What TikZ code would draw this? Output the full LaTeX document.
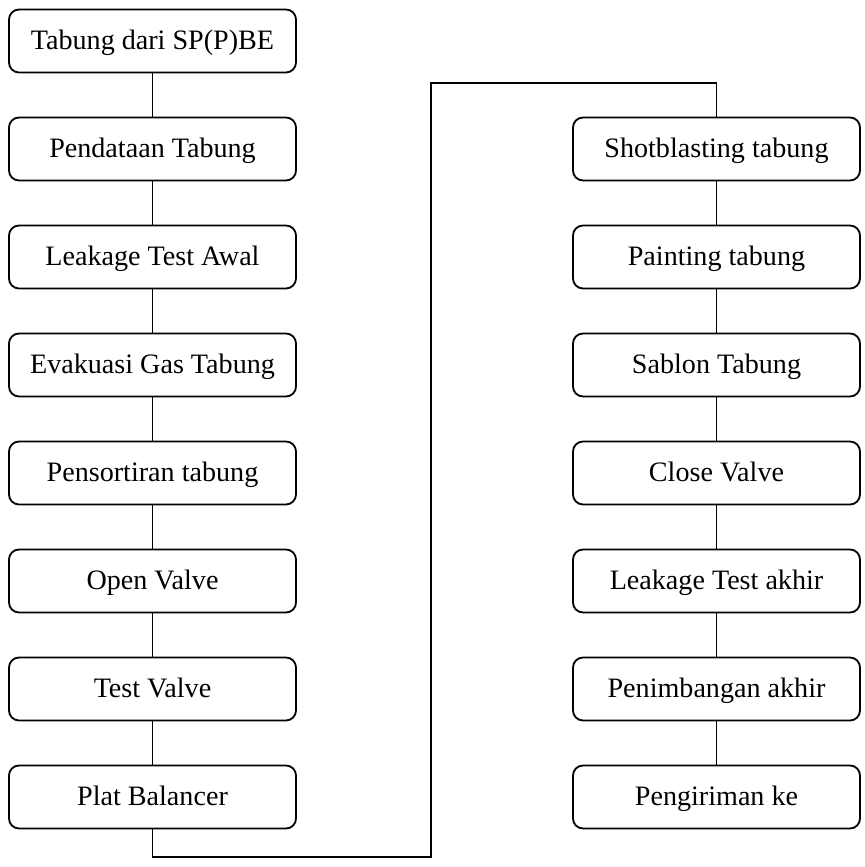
\documentclass[tikz,border=0pt]{standalone}
\usepackage{fontspec}
\setmainfont{Liberation Serif}
\usepackage{tikz}
\usetikzlibrary{positioning}
\tikzstyle{langkah} = [rectangle, rounded corners=0.25cm,
minimum width=7.175cm,
minimum height=1.575cm,
text centered,
text height=16pt,
text depth=4.5pt,
line width=1.3pt,
draw=black,
font=\fontsize{20}{24}\selectfont]
\tikzstyle{garis} = [line width=1.3pt]

\begin{document}
\begin{tikzpicture}[node distance=2.7cm]

  \useasboundingbox (0,0) rectangle (21.625,-21.675);

  % kolom kiri
  \node (tabung) [langkah] at (3.8125,-1.025) {Tabung dari SP(P)BE};
  \node (pendataan) [langkah, below of=tabung] {Pendataan Tabung};
  \node (leakawal) [langkah, below of=pendataan] {Leakage Test Awal};
  \node (evakuasi) [langkah, below of=leakawal] {Evakuasi Gas Tabung};
  \node (sortir) [langkah, below of=evakuasi] {Pensortiran tabung};
  \node (open) [langkah, below of=sortir] {Open Valve};
  \node (testvalve) [langkah, below of=open] {Test Valve};
  \node (plat) [langkah, below of=testvalve] {Plat Balancer};

  % kolom kanan
  \node (shot) [langkah] at (17.9125,-3.725) {Shotblasting tabung};
  \node (painting) [langkah, below of=shot] {Painting tabung};
  \node (sablon) [langkah, below of=painting] {Sablon Tabung};
  \node (close) [langkah, below of=sablon] {Close Valve};
  \node (leakakhir) [langkah, below of=close] {Leakage Test akhir};
  \node (timbang) [langkah, below of=leakakhir] {Penimbangan akhir};
  \node (kirim) [langkah, below of=timbang] {Pengiriman ke};

  \coordinate (bawah) at (10.775,-21.425);
  \coordinate (atas) at (10.775,-2.075);

  \draw [garis] (tabung) -- (pendataan);
  \draw [garis] (pendataan) -- (leakawal);
  \draw [garis] (leakawal) -- (evakuasi);
  \draw [garis] (evakuasi) -- (sortir);
  \draw [garis] (sortir) -- (open);
  \draw [garis] (open) -- (testvalve);
  \draw [garis] (testvalve) -- (plat);
  \draw [garis] (plat.south) |- (bawah) -- (atas) -| (shot.north);
  \draw [garis] (shot) -- (painting);
  \draw [garis] (painting) -- (sablon);
  \draw [garis] (sablon) -- (close);
  \draw [garis] (close) -- (leakakhir);
  \draw [garis] (leakakhir) -- (timbang);
  \draw [garis] (timbang) -- (kirim);

\end{tikzpicture}
\end{document}
